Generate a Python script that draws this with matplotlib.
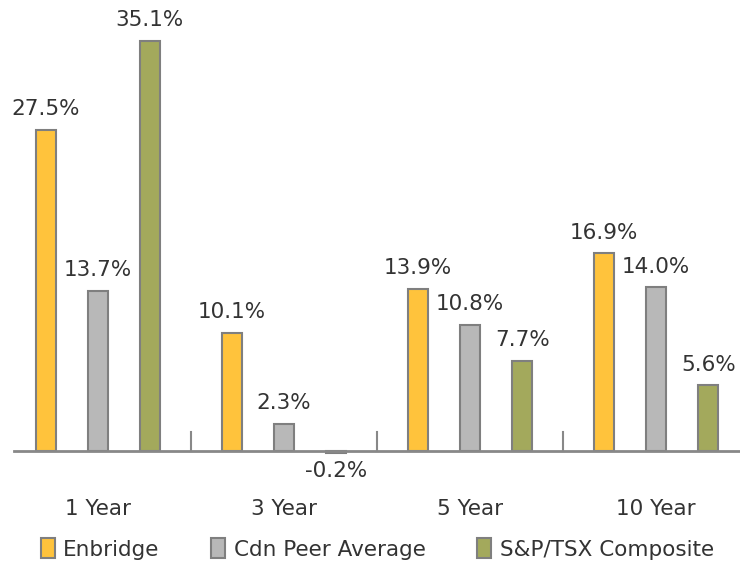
import numpy as np
import matplotlib
matplotlib.use("Agg")
import matplotlib.pyplot as plt
from matplotlib.patches import Patch

periods = ["1 Year", "3 Year", "5 Year", "10 Year"]
enbridge = [27.5, 10.1, 13.9, 16.9]
peer_avg = [13.7, 2.3, 10.8, 14.0]
tsx = [35.1, -0.2, 7.7, 5.6]
series_names = ["Enbridge", "Cdn Peer Average", "S&P/TSX Composite"]

colors = ["#FFC33C", "#B8B8B8", "#A3A95C"]
edge = "#7F7F7F"
txt = "#333333"
plt.rcParams['font.family'] = ['DejaVu Sans']

fig = plt.figure(figsize=(7.4, 5.65), dpi=100)
# axes placed so that zero line sits at y=451px, 11.68 px per percent
ax = fig.add_axes([14/740, 0.14, 726/740, 0.86])
ax.set_xlim(-0.45, 3.45)
ax.set_ylim(-3, 38.6)
ax.axis("off")

x = np.arange(len(periods))
off = 0.28
w = 0.108
for i, vals in enumerate([enbridge, peer_avg, tsx]):
    xs = x + (i - 1) * off
    ax.bar(xs, vals, width=w, color=colors[i], edgecolor=edge, linewidth=1.5, zorder=3)
    for xi, v in zip(xs, vals):
        if v >= 0:
            ax.text(xi, v + 0.9, f"{v:.1f}%", ha="center", va="bottom",
                    fontsize=15.5, color=txt)
        else:
            ax.text(xi, v - 0.7, f"{v:.1f}%", ha="center", va="top",
                    fontsize=15.5, color=txt)

# baseline and separator ticks
ax.plot([-0.45, 3.45], [0, 0], color="#888888", lw=2, zorder=4, clip_on=False)
for m in (x[:-1] + 0.5):
    ax.plot([m, m], [0, 1.6], color="#888888", lw=1.5, zorder=4)

for xi, p in zip(x, periods):
    ax.text(xi, -4.95, p, ha="center", va="center", fontsize=15.5, color=txt, clip_on=False)

handles = [Patch(facecolor=c, edgecolor=edge, linewidth=1.5) for c in colors]
fig.legend(handles, series_names, loc="center", bbox_to_anchor=(0.51, 1 - 549/565),
           ncol=3, frameon=False, fontsize=15.5, handlelength=0.65, handleheight=1.0,
           handletextpad=0.4, columnspacing=2.4, labelcolor=txt,
           borderpad=0, borderaxespad=0)

fig.savefig("out.png", dpi=100)
